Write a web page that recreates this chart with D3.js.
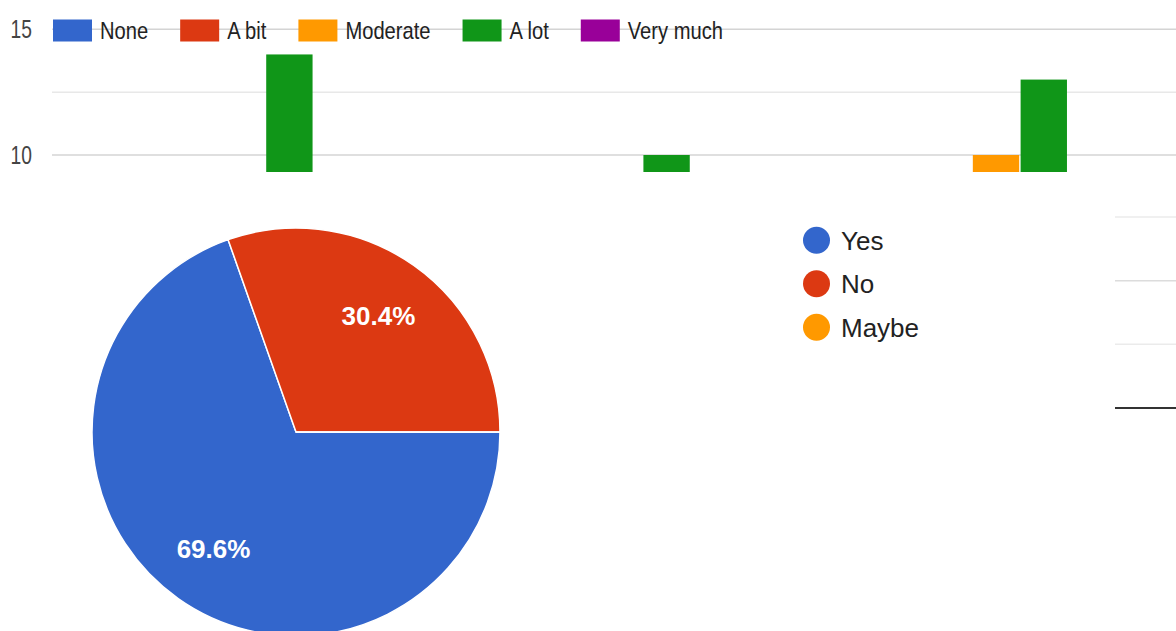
<!DOCTYPE html>
<html>
<head>
<meta charset="utf-8">
<script src="https://cdn.jsdelivr.net/npm/d3@7"></script>
<style>
  body { margin: 0; background: #fff; }
  svg { display: block; font-family: Arial, "Liberation Sans", sans-serif; }
</style>
</head>
<body>
<svg id="chart" width="1176" height="631"></svg>
<script>
// ---- Grouped bar chart data (responses per question) ----
const categories = ["Q1", "Q2", "Q3"];
const seriesNames = ["None", "A bit", "Moderate", "A lot", "Very much"];
const seriesColors = ["#3366cc", "#dc3912", "#ff9900", "#109618", "#990099"];
const noneValues = [0, 1, 0];
const aBitValues = [1, 2, 1];
const moderateValues = [4, 6, 10];
const aLotValues = [14, 10, 13];
const veryMuchValues = [5, 4, 6];
const barMajorTicks = [10, 15];
const barMinorTicks = [12.5];

// ---- Pie chart data ----
const pieLabels = ["Yes", "No", "Maybe"];
const pieValues = [69.6, 30.4, 0];
const pieColors = ["#3366cc", "#dc3912", "#ff9900"];

// ---- Gridlines of the neighbouring chart on the right ----
const sideTicks = [0, 1, 2, 3];

const svg = d3.select("#chart");
const seriesValues = [noneValues, aBitValues, moderateValues, aLotValues, veryMuchValues];

// ================= Bar chart =================
const bar = svg.append("g");
svg.append("clipPath").attr("id", "barClip")
  .append("rect").attr("x", 0).attr("y", 0).attr("width", 1176).attr("height", 172);
const plot = bar.append("g").attr("clip-path", "url(#barClip)");

const y = d3.scaleLinear().domain([10, 15]).range([155, 29.3]);
const step = 377.2, groupW = 237.5;
const x0 = d3.scaleBand().domain(categories).range([53, 53 + step * categories.length]);
const x1 = d3.scaleBand().domain(seriesNames).range([0, groupW]).paddingInner(0.03);

plot.selectAll("line.minor").data(barMinorTicks).join("line")
  .attr("x1", 52).attr("x2", 1176)
  .attr("y1", d => y(d)).attr("y2", d => y(d))
  .attr("stroke", "#e8e8e8").attr("stroke-width", 1.5);
plot.selectAll("line.major").data(barMajorTicks).join("line")
  .attr("x1", 52).attr("x2", 1176)
  .attr("y1", d => y(d)).attr("y2", d => y(d))
  .attr("stroke", "#d4d4d4").attr("stroke-width", 1.5);

const groups = plot.selectAll("g.grp").data(categories).join("g")
  .attr("transform", c => `translate(${x0(c) + (x0.bandwidth() - groupW) / 2},0)`);
groups.selectAll("rect").data((c, ci) => seriesNames.map((s, si) => ({ s, si, v: seriesValues[si][ci] })))
  .join("rect")
  .attr("x", d => x1(d.s))
  .attr("width", x1.bandwidth())
  .attr("y", d => y(d.v))
  .attr("height", d => Math.max(0, y(0) - y(d.v)))
  .attr("fill", d => seriesColors[d.si]);

// y-axis labels
bar.selectAll("text.ytick").data(barMajorTicks).join("text")
  .attr("transform", d => `translate(32,${y(d) + 9}) scale(0.74,1)`)
  .attr("text-anchor", "end")
  .attr("font-size", 26)
  .attr("fill", "#444")
  .text(d => d);

// legend drawn across the top gridline
const legendScale = 0.84;
let lx = 53;
seriesNames.forEach((name, i) => {
  bar.append("rect").attr("x", lx).attr("y", 19.5).attr("width", 39).attr("height", 22)
    .attr("fill", seriesColors[i]);
  const t = bar.append("text")
    .attr("transform", `translate(${lx + 47},39) scale(${legendScale},1)`)
    .attr("font-size", 24).attr("fill", "#222").text(name);
  const w = t.node().getComputedTextLength() * legendScale;
  lx = lx + 47 + w + 32;
});

// ================= Pie chart =================
const cx = 296, cy = 432, r = 204;
const pie = d3.pie().sort(null).value(d => d)
  .startAngle(Math.PI / 2).endAngle(Math.PI / 2 + 2 * Math.PI);
const arcs = pie(pieValues);
const arc = d3.arc().innerRadius(0).outerRadius(r);
const labelArc = d3.arc().innerRadius(r * 0.7).outerRadius(r * 0.7);
const pg = svg.append("g").attr("transform", `translate(${cx},${cy})`);
pg.selectAll("path").data(arcs).join("path")
  .attr("d", arc)
  .attr("fill", (d, i) => pieColors[i])
  .attr("stroke", "#fff").attr("stroke-width", 1.5);
pg.selectAll("text").data(arcs.filter(d => d.value > 0)).join("text")
  .attr("transform", d => `translate(${labelArc.centroid(d)})`)
  .attr("text-anchor", "middle").attr("dy", "0.36em")
  .attr("font-size", 26).attr("font-weight", "bold").attr("fill", "#fff")
  .text(d => d.value.toFixed(1) + "%");

// pie legend
const lg = svg.append("g");
pieLabels.forEach((name, i) => {
  const ly = 240.3 + i * 43.5;
  lg.append("circle").attr("cx", 816.5).attr("cy", ly).attr("r", 13.5).attr("fill", pieColors[i]);
  lg.append("text").attr("x", 841).attr("y", ly + 9.3).attr("font-size", 26)
    .attr("fill", "#222").text(name);
});

// ================= Neighbouring chart gridlines =================
const ys = d3.scaleLinear().domain([0, 3]).range([408, 217]);
svg.selectAll("line.side").data(sideTicks).join("line")
  .attr("x1", 1115).attr("x2", 1176)
  .attr("y1", d => ys(d)).attr("y2", d => ys(d))
  .attr("stroke", d => d === 0 ? "#333" : (d === 2 ? "#dcdcdc" : "#ebebeb"))
  .attr("stroke-width", d => d === 0 ? 2 : 1.5);
</script>
</body>
</html>
